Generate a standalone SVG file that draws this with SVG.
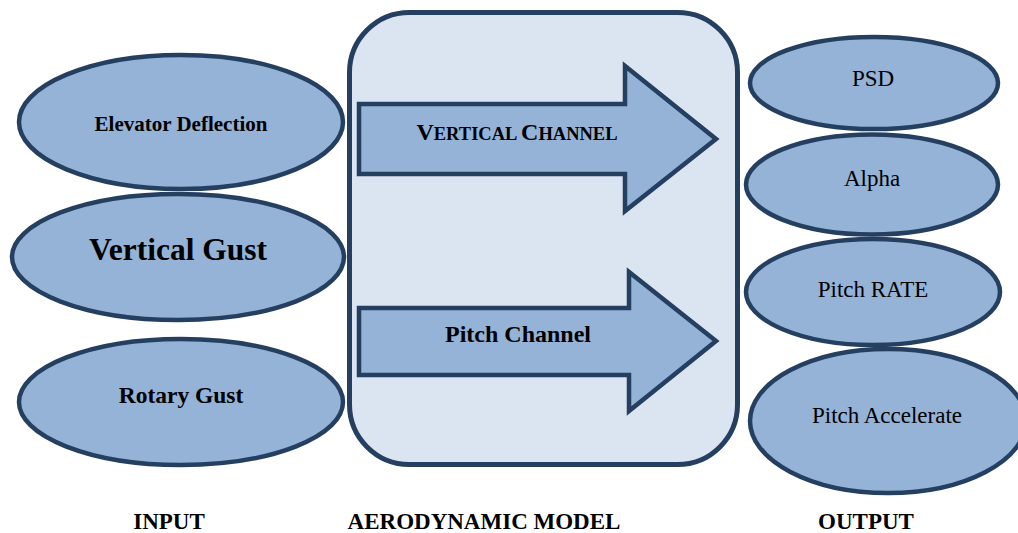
<svg xmlns="http://www.w3.org/2000/svg" width="1018" height="533" viewBox="0 0 1018 533">
<style>
.node{fill:#95b3d7;stroke:#243f60;stroke-width:4.5}
.box{fill:#dbe5f1;stroke:#243f60;stroke-width:5}
.arrow{fill:#95b3d7;stroke:#243f60;stroke-width:4.5;stroke-linejoin:miter}
text{fill:#000;text-anchor:middle}
.b{font-weight:bold}
.r{font-size:23px}
.lbl{font-weight:bold;font-size:23px}
</style>
<rect width="1018" height="533" fill="#fff"/>
<g font-family="'Liberation Serif', 'Times New Roman', 'DejaVu Serif', serif">
<g id="model">
<rect class="box" x="349.5" y="12.5" width="388" height="452" rx="60" ry="60"/>
</g>
<g id="connectors">
<g id="vertical-channel">
<polygon class="arrow" points="359,104 625,104 625,66 716,139 625,211 625,174 359,174"/>
<text class="b" x="517" y="140"><tspan font-size="24">V</tspan><tspan font-size="18.5">ERTICAL </tspan><tspan font-size="24">C</tspan><tspan font-size="18.5">HANNEL</tspan></text>
</g>
<g id="pitch-channel">
<polygon class="arrow" points="359,308 629,308 629,272 716,341 629,411 629,375 359,375"/>
<text class="b" x="518" y="342" font-size="24">Pitch Channel</text>
</g>
</g>
<g id="in-elevator">
<ellipse class="node" cx="181" cy="122" rx="162" ry="67"/>
<text class="b" x="181" y="131" font-size="21">Elevator Deflection</text>
</g>
<g id="in-vertical-gust">
<ellipse class="node" cx="178" cy="257" rx="166" ry="63"/>
<text class="b" x="178" y="260" font-size="31.5">Vertical Gust</text>
</g>
<g id="in-rotary-gust">
<ellipse class="node" cx="181" cy="402" rx="162" ry="63"/>
<text class="b" x="181" y="403" font-size="23.5">Rotary Gust</text>
</g>
<g id="out-psd">
<ellipse class="node" cx="874" cy="83" rx="124" ry="46"/>
<text class="r" x="873" y="86">PSD</text>
</g>
<g id="out-alpha">
<ellipse class="node" cx="872" cy="184.5" rx="126" ry="50"/>
<text class="r" x="872" y="186">Alpha</text>
</g>
<g id="out-pitch-rate">
<ellipse class="node" cx="873" cy="292" rx="127" ry="53"/>
<text class="r" x="873" y="297">Pitch RATE</text>
</g>
<g id="out-pitch-accel">
<ellipse class="node" cx="888" cy="421" rx="138" ry="72"/>
<text class="r" x="887" y="423">Pitch Accelerate</text>
</g>
<g id="labels">
<text class="lbl" x="169" y="529">INPUT</text>
<text class="lbl" x="484" y="529">AERODYNAMIC MODEL</text>
<text class="lbl" x="866" y="529">OUTPUT</text>
</g>
</g>
</svg>
